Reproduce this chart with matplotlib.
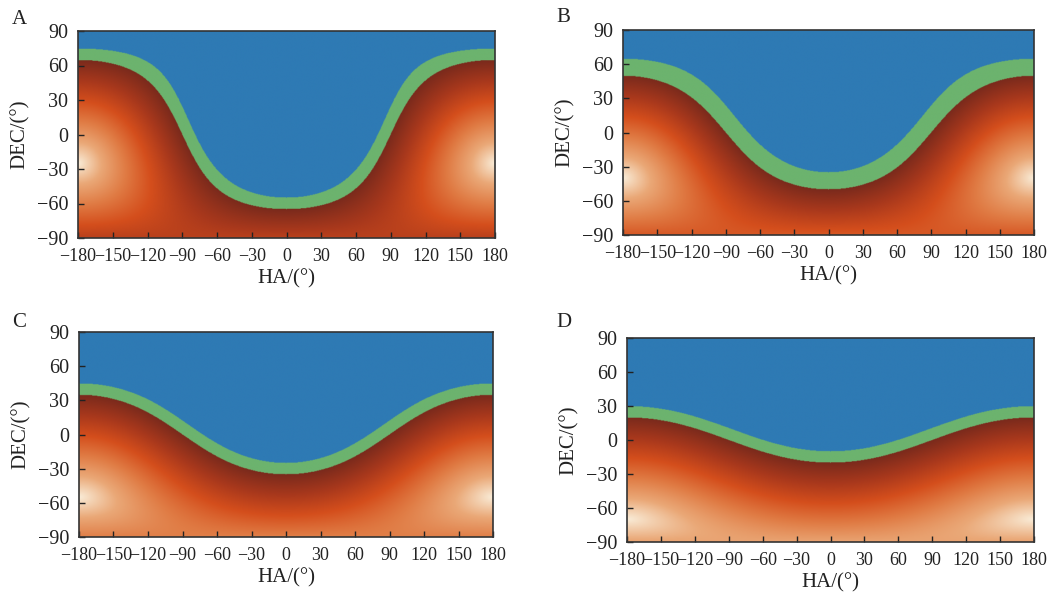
import matplotlib
matplotlib.use('Agg')
import matplotlib.pyplot as plt
import numpy as np
from matplotlib.colors import LinearSegmentedColormap, to_rgba

plt.rcParams['font.family'] = ['Liberation Serif', 'DejaVu Serif']
plt.rcParams['axes.unicode_minus'] = True

# latitude do observador e largura da faixa verde (graus) em cada painel
paineis = ['A', 'B', 'C', 'D']
latitudes = [25, 40, 55, 70]
faixas = [10, 15, 10, 10]

ticks_x = [-180, -150, -120, -90, -60, -30, 0, 30, 60, 90, 120, 150, 180]
ticks_y = [-90, -60, -30, 0, 30, 60, 90]

cor_azul = '#2e7ab4'
cor_verde = '#6cb36e'
# cores abaixo do horizonte: escuro no horizonte, claro no nadir
cores_abaixo = ['#7a2a1c', '#a8381c', '#d44e1c', '#e07c45', '#eaa877', '#f9ebd6']
cmap = LinearSegmentedColormap.from_list('abaixo', cores_abaixo)

# posicoes dos eixos em pixels (esq, topo, dir, base)
W, H = 1049, 592
caixas = [(78, 31, 495, 238), (623, 30, 1034, 235),
          (79, 332, 493, 537), (627, 338, 1034, 542)]
pos_letra = [(12, 19), (556, 17), (12, 322), (556, 322)]

ha = np.linspace(-180, 180, 721)
dec = np.linspace(-90, 90, 361)
HH, DD = np.meshgrid(np.radians(ha), np.radians(dec))

fig = plt.figure(figsize=(W / 100, H / 100), dpi=100)

for i in range(4):
    phi = np.radians(latitudes[i])
    alt = np.degrees(np.arcsin(np.sin(phi) * np.sin(DD) +
                               np.cos(phi) * np.cos(DD) * np.cos(HH)))
    img = cmap(np.clip(-alt / 90.0, 0, 1))
    img[alt >= 0] = to_rgba(cor_verde)
    img[alt >= faixas[i]] = to_rgba(cor_azul)

    l, t, r, b = caixas[i]
    ax = fig.add_axes([l / W, 1 - b / H, (r - l) / W, (b - t) / H])
    ax.imshow(img, extent=[-180, 180, -90, 90], origin='lower', aspect='auto',
              interpolation='bilinear')
    ax.set_xlim(-180, 180)
    ax.set_ylim(-90, 90)
    ax.set_xticks(ticks_x)
    ax.set_yticks(ticks_y)
    ax.tick_params(direction='in', length=4, width=1, pad=7,
                   colors='#222222', labelcolor='#222222')
    ax.tick_params(axis='x', labelsize=13)
    ax.tick_params(axis='y', labelsize=14.5)
    for s in ax.spines.values():
        s.set_color('#333333')
        s.set_linewidth(1.2)
    ax.set_xlabel('HA/(°)', fontsize=15, labelpad=3, color='#222222')
    ax.set_ylabel('DEC/(°)', fontsize=15, labelpad=5, color='#222222')
    fig.text(pos_letra[i][0] / W, 1 - pos_letra[i][1] / H, paineis[i],
             fontsize=15, va='center', ha='left', color='#222222')

fig.savefig('out.png', dpi=100)
